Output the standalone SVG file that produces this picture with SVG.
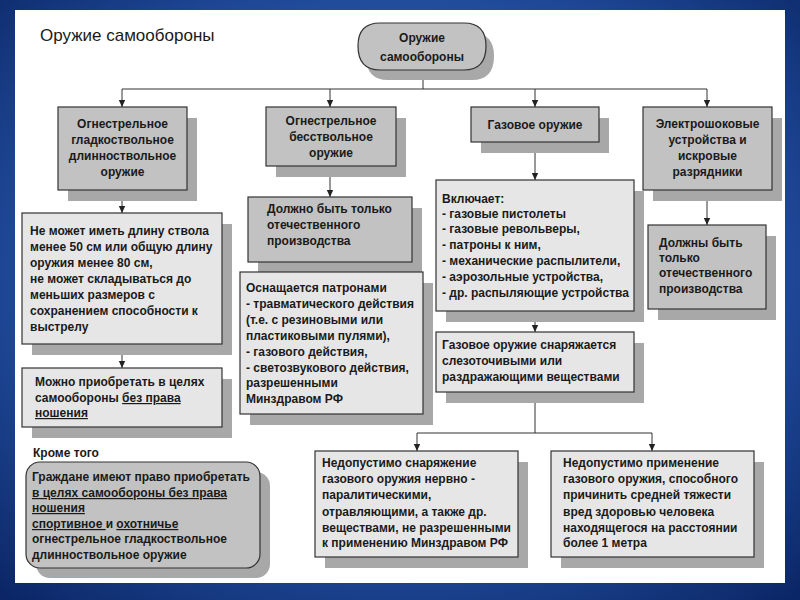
<svg xmlns="http://www.w3.org/2000/svg" width="800" height="600" viewBox="0 0 800 600">
<defs>
<radialGradient id="bg" cx="50%" cy="45%" r="75%">
<stop offset="0" stop-color="#3563b0"/>
<stop offset="0.6" stop-color="#214c9c"/>
<stop offset="1" stop-color="#0a2463"/>
</radialGradient>
<marker id="arr" markerWidth="8" markerHeight="8" refX="7" refY="4" orient="auto" markerUnits="userSpaceOnUse">
<path d="M0,0.8 L7,4 L0,7.2 z" fill="#222"/>
</marker>
<style>
.dark{fill:#c2c2c2;stroke:#333;stroke-width:1.2}
.light{fill:#e6e6e6;stroke:#333;stroke-width:1.2}
.sh{fill:#a8a8a8}
.t{font-family:"Liberation Sans",Arial,sans-serif;font-size:12px;font-weight:bold;fill:#1a1a1a}
.c{text-anchor:middle}
.u{text-decoration:underline}
.ln{fill:none;stroke:#333;stroke-width:1}
</style>
</defs>
<rect x="0" y="0" width="800" height="600" fill="url(#bg)"/>
<rect x="15" y="10" width="770" height="573" fill="#ffffff"/>
<text x="40" y="41" font-family="'Liberation Sans',Arial,sans-serif" font-size="17" fill="#1a1a1a">Оружие самообороны</text>

<g id="connectors">
<path class="ln" d="M423,70 V89 M122,89 H707"/>
<path class="ln" marker-end="url(#arr)" d="M122,89 V107"/>
<path class="ln" marker-end="url(#arr)" d="M330,89 V107"/>
<path class="ln" marker-end="url(#arr)" d="M535,89 V107"/>
<path class="ln" marker-end="url(#arr)" d="M707,89 V107"/>
<path class="ln" marker-end="url(#arr)" d="M122,190 V213"/>
<path class="ln" marker-end="url(#arr)" d="M122,344 V368"/>
<path class="ln" marker-end="url(#arr)" d="M330,166 V197"/>
<path class="ln" marker-end="url(#arr)" d="M330,262 V272"/>
<path class="ln" marker-end="url(#arr)" d="M535,142 V180"/>
<path class="ln" marker-end="url(#arr)" d="M535,311 V332"/>
<path class="ln" d="M535,392 V433 M417,433 H652"/>
<path class="ln" marker-end="url(#arr)" d="M417,433 V451"/>
<path class="ln" marker-end="url(#arr)" d="M652,433 V451"/>
<path class="ln" marker-end="url(#arr)" d="M707,190 V225"/>
</g>

<g id="root">
<path class="sh" d="M388,33 H472 Q494,33 494,56 Q494,80 472,80 H388 Q366,80 366,56 Q366,33 388,33 Z"/>
<path class="dark" d="M380,23 H464 Q486,23 486,46 Q486,70 464,70 H380 Q358,70 358,46 Q358,23 380,23 Z"/>
<text class="t c" x="422" y="42" font-size="13.5">Оружие</text>
<text class="t c" x="422" y="61" font-size="13.5">самообороны</text>
</g>

<g id="n-smooth">
<rect class="sh" x="68" y="118" width="129" height="83"/>
<rect class="dark" x="58" y="107" width="129" height="83"/>
<text class="t c" x="122.5" y="128">Огнестрельное</text>
<text class="t c" x="122.5" y="144">гладкоствольное</text>
<text class="t c" x="122.5" y="160">длинноствольное</text>
<text class="t c" x="122.5" y="176">оружие</text>
</g>

<g id="n-barrelless">
<rect class="sh" x="276" y="118" width="130" height="59"/>
<rect class="dark" x="266" y="107" width="130" height="59"/>
<text class="t c" x="331" y="125">Огнестрельное</text>
<text class="t c" x="331" y="141">бесствольное</text>
<text class="t c" x="331" y="157">оружие</text>
</g>

<g id="n-gas">
<rect class="sh" x="481" y="118" width="128" height="35"/>
<rect class="dark" x="471" y="107" width="128" height="35"/>
<text class="t c" x="535" y="129">Газовое оружие</text>
</g>

<g id="n-electro">
<rect class="sh" x="653" y="118" width="129" height="83"/>
<rect class="dark" x="643" y="107" width="129" height="83"/>
<text class="t c" x="707.5" y="128">Электрошоковые</text>
<text class="t c" x="707.5" y="144">устройства и</text>
<text class="t c" x="707.5" y="160">искровые</text>
<text class="t c" x="707.5" y="176">разрядники</text>
</g>

<g id="n-length">
<rect class="sh" x="32" y="224" width="200" height="131"/>
<rect class="light" x="22" y="213" width="200" height="131"/>
<text class="t" x="30" y="235">Не может иметь длину ствола</text>
<text class="t" x="30" y="251">менее 50 см или общую длину</text>
<text class="t" x="30" y="267">оружия менее 80 см,</text>
<text class="t" x="30" y="283">не может складываться до</text>
<text class="t" x="30" y="299">меньших размеров с</text>
<text class="t" x="30" y="315">сохранением способности к</text>
<text class="t" x="30" y="331">выстрелу</text>
</g>

<g id="n-buy">
<rect class="sh" x="32" y="379" width="200" height="59"/>
<rect class="light" x="22" y="368" width="200" height="59"/>
<text class="t" x="35" y="386">Можно приобретать в целях</text>
<text class="t" x="35" y="402">самообороны <tspan class="u">без права</tspan></text>
<text class="t u" x="35" y="417">ношения</text>
</g>

<g id="n-besides">
<text class="t" x="33" y="457">Кроме того</text>
<rect class="sh" x="36" y="472" width="234" height="106" rx="14"/>
<rect class="dark" x="26" y="462" width="234" height="106" rx="14"/>
<text class="t" x="32" y="481">Граждане имеют право приобретать</text>
<text class="t u" x="32" y="497">в целях самообороны без права</text>
<text class="t u" x="32" y="512">ношения</text>
<text class="t" x="32" y="528"><tspan class="u">спортивное </tspan> и <tspan class="u">охотничье</tspan></text>
<text class="t" x="32" y="543">огнестрельное гладкоствольное</text>
<text class="t" x="32" y="559">длинноствольное оружие</text>
</g>

<g id="n-domestic1">
<rect class="sh" x="258" y="208" width="164" height="65"/>
<rect class="dark" x="248" y="197" width="164" height="65"/>
<text class="t" x="267" y="213">Должно быть только</text>
<text class="t" x="267" y="229">отечественного</text>
<text class="t" x="267" y="245">производства</text>
</g>

<g id="n-cartridges">
<rect class="sh" x="250" y="283" width="183" height="142"/>
<rect class="light" x="240" y="272" width="183" height="142"/>
<text class="t" x="246" y="292">Оснащается патронами</text>
<text class="t" x="246" y="308">- травматического действия</text>
<text class="t" x="246" y="324">(т.е. с резиновыми или</text>
<text class="t" x="246" y="340">пластиковыми пулями),</text>
<text class="t" x="246" y="356">- газового действия,</text>
<text class="t" x="246" y="372">- светозвукового действия,</text>
<text class="t" x="246" y="387">разрешенными</text>
<text class="t" x="246" y="403">Минздравом  РФ</text>
</g>

<g id="n-includes">
<rect class="sh" x="446" y="191" width="198" height="131"/>
<rect class="light" x="436" y="180" width="198" height="131"/>
<text class="t" x="442" y="203">Включает:</text>
<text class="t" x="442" y="218">- газовые пистолеты</text>
<text class="t" x="442" y="233">- газовые  револьверы,</text>
<text class="t" x="442" y="249">- патроны к ним,</text>
<text class="t" x="442" y="265">- механические распылители,</text>
<text class="t" x="442" y="281">- аэрозольные устройства,</text>
<text class="t" x="442" y="297">- др. распыляющие устройства</text>
</g>

<g id="n-charged">
<rect class="sh" x="446" y="343" width="198" height="60"/>
<rect class="light" x="436" y="332" width="198" height="60"/>
<text class="t" x="442" y="349">Газовое оружие снаряжается</text>
<text class="t" x="442" y="365">слезоточивыми или</text>
<text class="t" x="442" y="381">раздражающими веществами</text>
</g>

<g id="n-forbidden1">
<rect class="sh" x="325" y="462" width="203" height="106"/>
<rect class="light" x="315" y="451" width="203" height="106"/>
<text class="t" x="322" y="467">Недопустимо снаряжение</text>
<text class="t" x="322" y="483">газового оружия нервно -</text>
<text class="t" x="322" y="499">паралитическими,</text>
<text class="t" x="322" y="516">отравляющими, а также др.</text>
<text class="t" x="322" y="532">веществами, не разрешенными</text>
<text class="t" x="322" y="547">к применению Минздравом РФ</text>
</g>

<g id="n-forbidden2">
<rect class="sh" x="561" y="462" width="203" height="106"/>
<rect class="light" x="551" y="451" width="203" height="106"/>
<text class="t" x="563" y="467">Недопустимо применение</text>
<text class="t" x="563" y="483">газового оружия, способного</text>
<text class="t" x="563" y="499">причинить средней тяжести</text>
<text class="t" x="563" y="516">вред здоровью человека</text>
<text class="t" x="563" y="532">находящегося на расстоянии</text>
<text class="t" x="563" y="547">более 1 метра</text>
</g>

<g id="n-domestic2">
<rect class="sh" x="658" y="236" width="118" height="84"/>
<rect class="dark" x="648" y="225" width="118" height="84"/>
<text class="t" x="659" y="247">Должны быть</text>
<text class="t" x="659" y="262">только</text>
<text class="t" x="659" y="277">отечественного</text>
<text class="t" x="659" y="293">производства</text>
</g>
</svg>
